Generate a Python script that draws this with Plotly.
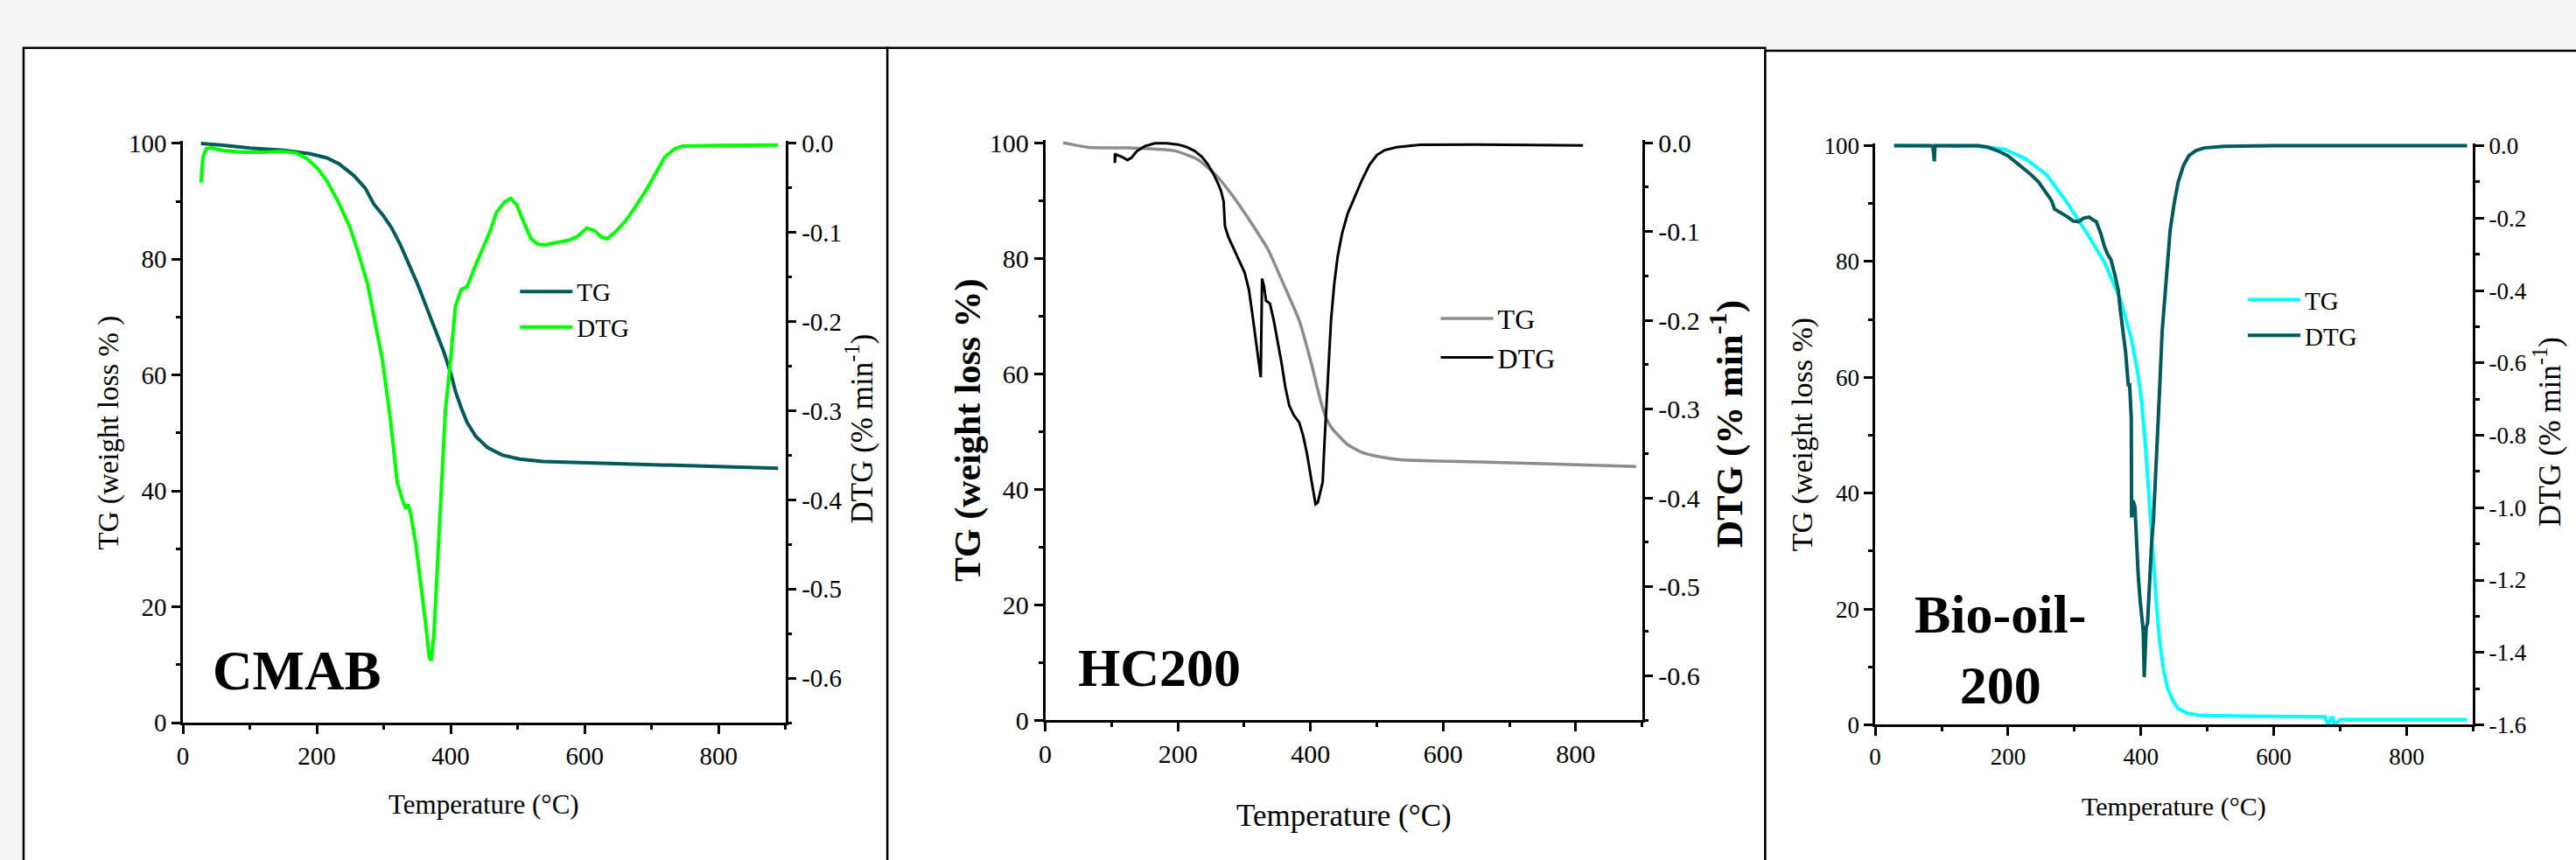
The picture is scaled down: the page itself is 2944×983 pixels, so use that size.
import plotly.graph_objects as go

FONT = "Liberation Serif, Times New Roman, serif"

# ---------------- data ----------------
# Panel 1: CMAB
cmab_tg_t = [27, 45, 60, 100, 150, 190, 215, 233, 254.8, 272.2, 278.7, 280.9, 285.2, 298.3, 311.3, 324.4,
             337.5, 350.5, 363.6, 376.6, 389.7, 400.6, 407.1, 415.8, 424.6, 437.6, 455, 476.8, 503,
             537.7, 624.8, 755.4, 889]
cmab_tg = [100, 99.9, 99.7, 99.2, 98.8, 98.2, 97.5, 96.5, 94.5, 92.3, 90.9, 90.4, 89.5, 87.7, 85.5, 82.6,
           79.2, 75.7, 71.8, 67.9, 64.0, 60.1, 57.2, 54.3, 51.8, 49.4, 47.5, 46.2, 45.5,
           45.1, 44.8, 44.4, 43.9]
cmab_dtg_t = [27, 30, 35, 42, 60, 90, 120, 150, 170, 185, 200, 215, 233, 250, 265, 276, 288, 298, 310, 320,
              328, 333, 336, 340, 348, 355, 362, 368, 371, 375, 380, 385, 392, 398.5, 407, 415.8, 424.5,
              437.6, 450, 459.4, 468, 480, 489.6, 498.5, 510, 520, 530, 540, 560, 577, 590, 603, 615, 625,
              633.5, 645, 660, 672.5, 694, 705, 720, 735, 746, 800, 889]
cmab_dtg = [-0.044, -0.015, -0.006, -0.005, -0.008, -0.010, -0.010, -0.009, -0.011, -0.017, -0.027, -0.042,
            -0.067, -0.095, -0.13, -0.158, -0.205, -0.243, -0.31, -0.38, -0.40, -0.41, -0.405, -0.415,
            -0.45, -0.49, -0.535, -0.577, -0.58, -0.55, -0.48, -0.392, -0.30, -0.253, -0.183, -0.164,
            -0.161, -0.136, -0.115, -0.0975, -0.078, -0.066, -0.0617, -0.069, -0.09, -0.107, -0.113,
            -0.114, -0.111, -0.1086, -0.104, -0.095, -0.098, -0.105, -0.107, -0.1, -0.088, -0.075,
            -0.05, -0.035, -0.015, -0.006, -0.003, -0.0022, -0.0017]

# Panel 2: HC200
hc_tg_t = [27, 65, 124, 195, 230, 259, 289, 312, 336, 359, 383, 401, 410, 418, 425, 432, 442, 455, 477,
           500, 536, 654, 870, 891]
hc_tg = [100, 99.2, 99.1, 98.6, 97.1, 94.2, 89.8, 85.9, 81.5, 75.6, 69.2, 61.9, 57.7, 54.2, 52.0, 50.6,
         49.3, 47.8, 46.4, 45.7, 45.1, 44.7, 44.0, 43.9]
hc_dtg_t = [105, 105, 106, 115, 124, 130, 138, 150, 165, 183, 200, 212, 225, 236, 245, 253.4, 260, 265,
            269, 270.5, 271, 276, 283, 292, 300.6, 307, 312, 318, 325, 327, 330, 333, 338.8, 344.6, 350,
            356.4, 362, 368, 375, 383, 389, 394.7, 401, 405, 407.6, 411, 414, 418.4, 421, 424, 427, 431,
            435.8, 441, 447.7, 456, 465.3, 477, 488.8, 500, 512, 530, 565, 650, 811]
hc_dtg = [-0.0125, -0.0227, -0.013, -0.0157, -0.0195, -0.017, -0.0095, -0.004, -0.0007, -0.0007, -0.002,
          -0.0045, -0.009, -0.0157, -0.024, -0.0348, -0.045, -0.054, -0.066, -0.085, -0.094, -0.106,
          -0.118, -0.132, -0.146, -0.165, -0.191, -0.225, -0.264, -0.153, -0.162, -0.178, -0.181, -0.2,
          -0.222, -0.248, -0.275, -0.296, -0.307, -0.315, -0.33, -0.35, -0.378, -0.398, -0.407, -0.405,
          -0.395, -0.382, -0.34, -0.29, -0.255, -0.2, -0.159, -0.128, -0.102, -0.08, -0.0635, -0.043,
          -0.025, -0.014, -0.0083, -0.005, -0.0023, -0.0022, -0.003]

# Panel 3: Bio-oil-200
bio_tg_t = [28.5, 100, 155, 195, 226, 258, 290, 321, 345, 369, 385, 395, 401, 407, 412, 416, 420, 424,
            428, 434, 440, 448, 456, 470, 487, 550, 606, 677, 680, 682, 686, 689, 691, 695, 701, 800, 891]
bio_tg = [100, 100, 99.9, 99.4, 97.8, 95.0, 90.0, 84.5, 79.9, 73.5, 67.0, 61, 56.0, 48, 40.4, 33, 26.6,
          20, 14.7, 9.5, 6.4, 4.2, 2.8, 2.0, 1.65, 1.5, 1.4, 1.4, 0.5, 0, 1.2, 1.2, 0, 0.3, 0.9, 0.9, 0.9]
bio_dtg_t = [28.5, 84, 87, 88, 89, 90, 155, 170, 187, 200, 210, 222, 234, 246, 258, 265, 270, 280, 290,
             298, 306, 314, 322, 328, 333, 340, 345, 350, 355, 361, 366, 369, 373, 377, 381, 383, 384.6,
             385.5, 386, 388, 391, 393, 396, 399, 402, 403.5, 405, 406.5, 408, 410, 413, 416, 419, 422.6,
             427, 432, 438, 444, 450, 456, 464, 472, 483, 495, 527, 600, 891]
bio_dtg = [0, 0, -0.005, -0.043, -0.043, 0, 0, -0.004, -0.016, -0.028, -0.043, -0.06, -0.079, -0.1,
           -0.131, -0.15, -0.175, -0.185, -0.197, -0.208, -0.21, -0.2, -0.197, -0.205, -0.21, -0.245,
           -0.278, -0.3, -0.315, -0.358, -0.4, -0.454, -0.51, -0.571, -0.66, -0.66, -0.718, -0.75,
           -1.027, -0.98, -0.997, -1.08, -1.188, -1.26, -1.32, -1.34, -1.468, -1.35, -1.33, -1.32, -1.2,
           -1.1, -1.03, -0.909, -0.72, -0.513, -0.36, -0.234, -0.16, -0.101, -0.055, -0.028, -0.013,
           -0.006, -0.0015, 0, 0]

# tick labels
x_tickvals = [0, 200, 400, 600, 800]
tg_tickvals = [0, 20, 40, 60, 80, 100]
dtg_ticks_small = [0.0, -0.1, -0.2, -0.3, -0.4, -0.5, -0.6]
dtg_text_small = ["0.0", "-0.1", "-0.2", "-0.3", "-0.4", "-0.5", "-0.6"]
dtg_ticks_big = [0.0, -0.2, -0.4, -0.6, -0.8, -1.0, -1.2, -1.4, -1.6]
dtg_text_big = ["0.0", "-0.2", "-0.4", "-0.6", "-0.8", "-1.0", "-1.2", "-1.4", "-1.6"]

series_names = ["TG", "DTG"]
panel_labels = ["<b>CMAB</b>", "<b>HC200</b>", "<b>Bio-oil-<br>200</b>"]

# ---------------- figure ----------------
fig = go.Figure()

TEAL = "#00595a"

fig.add_trace(go.Scatter(x=cmab_tg_t, y=cmab_tg, name=series_names[0], mode="lines",
                         line=dict(color=TEAL, width=4), xaxis="x", yaxis="y", legend="legend"))
fig.add_trace(go.Scatter(x=cmab_dtg_t, y=cmab_dtg, name=series_names[1], mode="lines",
                         line=dict(color="#00ff00", width=4), xaxis="x", yaxis="y2", legend="legend"))
fig.add_trace(go.Scatter(x=hc_tg_t, y=hc_tg, name=series_names[0], mode="lines",
                         line=dict(color="#8c8c8c", width=3.5, shape="spline", smoothing=0.5),
                         xaxis="x2", yaxis="y3", legend="legend2"))
fig.add_trace(go.Scatter(x=hc_dtg_t, y=hc_dtg, name=series_names[1], mode="lines",
                         line=dict(color="#000000", width=3), xaxis="x2", yaxis="y4", legend="legend2"))
fig.add_trace(go.Scatter(x=bio_tg_t, y=bio_tg, name=series_names[0], mode="lines",
                         line=dict(color="#00ffff", width=4), xaxis="x3", yaxis="y5", legend="legend3"))
fig.add_trace(go.Scatter(x=bio_dtg_t, y=bio_dtg, name=series_names[1], mode="lines",
                         line=dict(color=TEAL, width=4), xaxis="x3", yaxis="y6", legend="legend3"))


def ax(size, **kw):
    d = dict(showline=True, linecolor="black", linewidth=2.5, ticks="outside", ticklen=10,
             tickwidth=2.5, tickcolor="black", showgrid=False, zeroline=False, mirror=False,
             tickfont=dict(family=FONT, size=size, color="black"))
    d.update(kw)
    return d


def minor(dtick):
    return dict(tickmode="linear", tick0=0, dtick=dtick, ticks="outside", ticklen=5, tickwidth=2.5,
                tickcolor="black", showgrid=False)


dom = {
    1: dict(x=[0.06848, 0.30302], y=[0.14792, 0.84547]),
    2: dict(x=[0.40414, 0.63645], y=[0.15107, 0.84629]),
    3: dict(x=[0.72721, 0.95992], y=[0.14537, 0.84263]),
}
tick_size = {1: 29, 2: 30, 3: 27}
TG_RANGE = [0, 100.4]

layout_axes = {}
for i, (xa, ya, ya2, dtv, dtt, drange, dminor) in enumerate([
        ("xaxis", "yaxis", "yaxis2", dtg_ticks_small, dtg_text_small, [-0.65, 0.0026], 0.05),
        ("xaxis2", "yaxis3", "yaxis4", dtg_ticks_small, dtg_text_small, [-0.65, 0.0026], 0.05),
        ("xaxis3", "yaxis5", "yaxis6", dtg_ticks_big, dtg_text_big, [-1.6, 0.0064], 0.1)], start=1):
    yname = "y" if i == 1 else "y%d" % (2 * i - 1)
    xname = "x" if i == 1 else "x%d" % i
    s = tick_size[i]
    layout_axes[xa] = ax(s, domain=dom[i]["x"], anchor=yname, range=[0, 900],
                         tickmode="array", tickvals=x_tickvals, minor=minor(100))
    layout_axes[ya] = ax(s, domain=dom[i]["y"], anchor=xname, range=TG_RANGE,
                         tickmode="array", tickvals=tg_tickvals, minor=minor(10))
    layout_axes[ya2] = ax(s, overlaying=yname, side="right", anchor=xname, range=drange,
                          tickmode="array", tickvals=dtv, ticktext=dtt, minor=minor(dminor))

fig.update_layout(**layout_axes)


def legend_cfg(x, y, size):
    return dict(x=x, y=y, xanchor="left", yanchor="top", bgcolor="rgba(0,0,0,0)",
                font=dict(family=FONT, size=size, color="black"), traceorder="normal",
                itemwidth=60)


fig.update_layout(
    legend=legend_cfg(0.198, 0.6917, 29),
    legend2=legend_cfg(0.5564, 0.6615, 32),
    legend3=legend_cfg(0.8706, 0.6818, 29),
)

# panel frames
shapes = []
for x0, x1, y1 in [(0.00645, 0.3427, 0.9573), (0.3427, 0.6844, 0.9573), (0.6844, 1.05, 0.9537)]:
    shapes.append(dict(type="rect", xref="paper", yref="paper", x0=x0, x1=x1, y0=-0.3, y1=y1,
                       fillcolor="white", line=dict(color="black", width=2.5), layer="below"))

ann = []


def add_text(text, x, y, size, angle=0):
    ann.append(dict(text=text, x=x, y=y, xref="paper", yref="paper", showarrow=False,
                    xanchor="center", yanchor="middle", textangle=angle, align="center",
                    font=dict(family=FONT, size=size, color="black")))


# big labels
add_text(panel_labels[0], 0.1128, 0.2096, 63)
add_text(panel_labels[1], 0.4487, 0.2136, 62)
add_text(panel_labels[2], 0.7758, 0.2360, 62)

# x titles
add_text("Temperature (°C)", 0.1855, 0.0498, 31)
add_text("Temperature (°C)", 0.5204, 0.0366, 35)
add_text("Temperature (°C)", 0.8434, 0.0468, 30)

# y titles
add_text("TG (weight loss % )", 0.0397, 0.4954, 33, -90)
add_text("DTG (% min<sup>-1</sup>)", 0.3319, 0.5005, 35, -90)
add_text("<b>TG (weight loss %)</b>", 0.3743, 0.4995, 42, -90)
add_text("<b>DTG (% min<sup>-1</sup>)</b>", 0.6692, 0.5066, 43, -90)
add_text("TG (weight loss %)", 0.6987, 0.4934, 34, -90)
add_text("DTG (% min<sup>-1</sup>)", 0.9891, 0.4975, 35, -90)

fig.update_layout(
    width=2944, height=983, autosize=False,
    margin=dict(l=0, r=0, t=0, b=0, pad=0),
    paper_bgcolor="#f5f5f5", plot_bgcolor="rgba(0,0,0,0)",
    shapes=shapes, annotations=ann,
    font=dict(family=FONT, color="black"),
)

fig.write_html(
    "out.html",
    config={"displayModeBar": False, "staticPlot": False},
    post_script="document.body.style.margin='0';document.body.style.padding='0';"
                "document.body.style.overflow='hidden';document.body.style.background='#f5f5f5';",
)
